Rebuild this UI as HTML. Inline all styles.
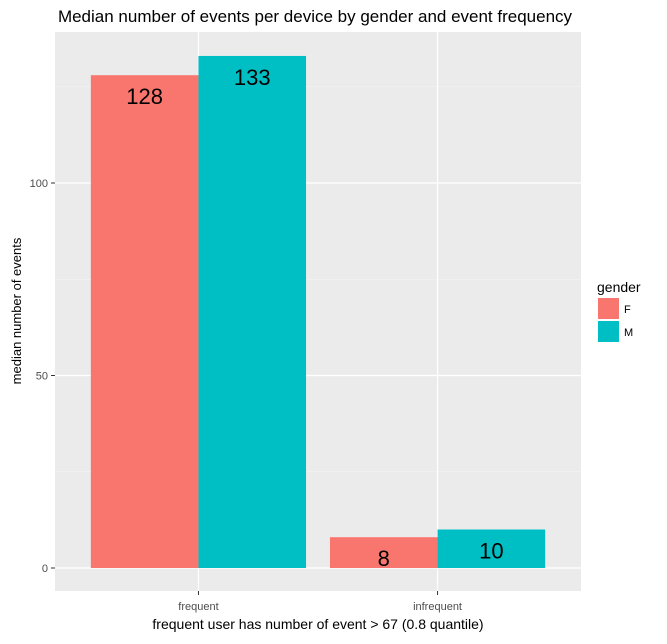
<!DOCTYPE html>
<html><head><meta charset="utf-8"><style>
body{margin:0;background:#fff;font-family:"Liberation Sans",sans-serif}
</style></head><body>
<svg id="c" width="667" height="639" xmlns="http://www.w3.org/2000/svg" font-family="Liberation Sans, sans-serif"></svg>
<script>
const categories=["frequent","infrequent"];
const seriesF=[128,8];
const seriesM=[133,10];
const yTicks=[0,50,100];
const svg=document.getElementById('c');
const NS="http://www.w3.org/2000/svg";
function mk(t,a,p){const e=document.createElementNS(NS,t);for(const k in a)e.setAttribute(k,a[k]);(p||svg).appendChild(e);return e;}
const L=55,R=581,T=32,B=591;
const y=v=>568-v*3.85;
const step=(R-L)/(categories.length+0.2);
const x=i=>L+step*(0.6+i);
let bg=mk('rect',{x:L,y:T,width:R-L,height:B-T,fill:'#ebebeb'});


[25,75,125].forEach(v=>{let l=mk('line',{x1:L,x2:R,y1:y(v),y2:y(v),stroke:'#f5f5f5','stroke-width':0.6});

});
yTicks.forEach(v=>{let l=mk('line',{x1:L,x2:R,y1:y(v),y2:y(v),stroke:'#fff','stroke-width':1.2});


let tk=mk('line',{x1:L-4,x2:L,y1:y(v),y2:y(v),stroke:'#333'});


let t=mk('text',{x:L-7,y:y(v)+4,'text-anchor':'end','font-size':11,fill:'#4d4d4d'});t.textContent=v;

});
categories.forEach((c,i)=>{let l=mk('line',{x1:x(i),x2:x(i),y1:T,y2:B,stroke:'#fff','stroke-width':1.2});


let tk=mk('line',{x1:x(i),x2:x(i),y1:B,y2:B+4,stroke:'#333'});


let t=mk('text',{x:x(i),y:B+19,'text-anchor':'middle','font-size':11,fill:'#4d4d4d'});t.textContent=c;

});
const bw=step*0.45;
[[seriesF,'#f8766d',-1],[seriesM,'#00bfc4',0]].forEach(([s,col,off],si)=>{
s.forEach((v,i)=>{const x0=x(i)+off*bw;
let r=mk('rect',{x:x0,y:y(v),width:bw,height:y(0)-y(v),fill:col});


let t=mk('text',{x:x0+bw/2,y:y(v)+29,'text-anchor':'middle','font-size':22,fill:'#000'});t.textContent=v;

});});
let tt=mk('text',{x:315,y:22,'text-anchor':'middle','font-size':17,fill:'#000'});tt.textContent='Median number of events per device by gender and event frequency';


let xt=mk('text',{x:318,y:629,'text-anchor':'middle','font-size':14,fill:'#000'});xt.textContent='frequent user has number of event > 67 (0.8 quantile)';


let yt=mk('text',{x:0,y:0,'text-anchor':'middle','font-size':13,fill:'#000',transform:'translate(21,311) rotate(-90)'});yt.textContent='median number of events';


let lt=mk('text',{x:597,y:292,'font-size':14,fill:'#000'});lt.textContent='gender';


[['F','#f8766d',298],['M','#00bfc4',321]].forEach(([n,col,yy])=>{
let g=mk('g',{});


mk('rect',{x:598,y:yy,width:21,height:21,fill:col},g);
let t=mk('text',{x:624,y:yy+15,'font-size':11,fill:'#000'},g);t.textContent=n;});
</script>
</body></html>
